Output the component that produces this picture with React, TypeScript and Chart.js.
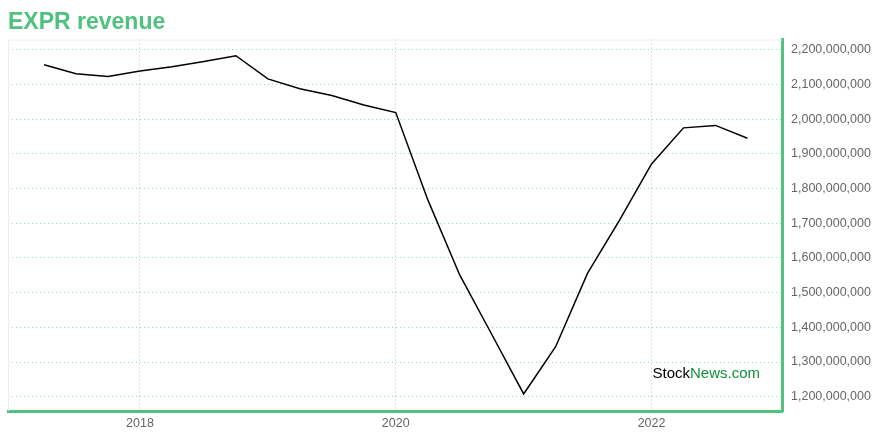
import React, { useEffect, useRef } from "react";
import { Chart, registerables } from "chart.js";

Chart.register(...registerables);

const TITLE = "EXPR revenue";
// quarter-end dates (fractional years)
const quarters: number[] = [
  2017.25, 2017.5, 2017.75, 2018.0, 2018.25, 2018.5, 2018.75, 2019.0,
  2019.25, 2019.5, 2019.75, 2020.0, 2020.25, 2020.5, 2020.75, 2021.0,
  2021.25, 2021.5, 2021.75, 2022.0, 2022.25, 2022.5, 2022.75,
];
// trailing revenue, USD
const revenue: number[] = [
  2157e6, 2131e6, 2123e6, 2139e6, 2151e6, 2166e6, 2183e6, 2116e6,
  2088e6, 2068e6, 2041e6, 2019e6, 1768e6, 1551e6, 1380e6, 1208e6,
  1344e6, 1556e6, 1709e6, 1871e6, 1975e6, 1982e6, 1945e6,
];
const xTicks: number[] = [2018, 2020, 2022];
const yTicks: number[] = [
  1.2e9, 1.3e9, 1.4e9, 1.5e9, 1.6e9, 1.7e9, 1.8e9, 1.9e9, 2.0e9, 2.1e9, 2.2e9,
];
const X_MIN = 2016.968;
const X_MAX = 2023.02;
const Y_MIN = 1.1588e9;
const Y_MAX = 2.2294e9;

const GREEN = "#50c17f";
const GRID = "rgba(80,193,127,0.6)";
const FONT = "'Liberation Sans', Arial, sans-serif";

const framePlugin = {
  id: "frame",
  beforeDatasetsDraw(chart: any) {
    const { ctx, chartArea } = chart;
    ctx.save();
    ctx.strokeStyle = "#ececec";
    ctx.lineWidth = 1;
    ctx.beginPath();
    ctx.moveTo(chartArea.left + 0.5, chartArea.bottom);
    ctx.lineTo(chartArea.left + 0.5, chartArea.top + 0.5);
    ctx.lineTo(chartArea.right, chartArea.top + 0.5);
    ctx.stroke();
    ctx.restore();
  },
  afterDraw(chart: any) {
    const { ctx, chartArea } = chart;
    ctx.save();
    ctx.font = "15px " + FONT;
    ctx.textBaseline = "middle";
    ctx.textAlign = "left";
    const a = "Stock";
    const b = "News.com";
    const wa = ctx.measureText(a).width;
    const wb = ctx.measureText(b).width;
    const x = chartArea.right - 22 - wa - wb;
    const y = chartArea.bottom - 37;
    ctx.fillStyle = "#000";
    ctx.fillText(a, x, y);
    ctx.fillStyle = "#12903a";
    ctx.fillText(b, x + wa, y);
    ctx.restore();
  },
};

export default function App() {
  const ref = useRef<HTMLCanvasElement>(null);
  useEffect(() => {
    if (!ref.current) return;
    const data = quarters.map((q, i) => ({ x: q, y: revenue[i] }));
    const chart = new Chart(ref.current, {
      type: "line",
      data: {
        datasets: [
          {
            data,
            borderColor: "#000",
            borderWidth: 1.5,
            pointRadius: 0,
            tension: 0,
            fill: false,
          },
        ],
      },
      options: {
        animation: false,
        responsive: false,
        maintainAspectRatio: false,
        layout: { padding: { left: 8, right: 0, top: 0, bottom: 0 } },
        plugins: {
          legend: { display: false },
          tooltip: { enabled: false },
          title: {
            display: true,
            text: TITLE,
            align: "start",
            color: GREEN,
            font: { family: FONT, size: 23, weight: "bold" },
            padding: { top: 9, bottom: 3 },
          },
        },
        scales: {
          x: {
            type: "linear",
            position: "bottom",
            min: X_MIN,
            max: X_MAX,
            afterFit(s: any) { s.height = 29; },
            afterBuildTicks(s: any) { s.ticks = xTicks.map((v) => ({ value: v })); },
            ticks: {
              padding: 5,
              color: "#666",
              font: { family: FONT, size: 12.5 },
              callback: (v: any) => String(v),
              maxRotation: 0,
              autoSkip: false,
            },
            grid: { color: GRID, drawTicks: false, lineWidth: 1 },
            border: { display: true, color: GREEN, width: 3, dash: [1, 3] },
          },
          y: {
            type: "linear",
            position: "right",
            min: Y_MIN,
            max: Y_MAX,
            afterFit(s: any) { s.width = 98; },
            afterBuildTicks(s: any) { s.ticks = yTicks.map((v) => ({ value: v })); },
            ticks: {
              padding: 9,
              color: "#666",
              font: { family: FONT, size: 12.5 },
              callback: (v: any) => Number(v).toLocaleString("en-US"),
              autoSkip: false,
            },
            grid: { color: GRID, drawTicks: false, lineWidth: 1 },
            border: { display: true, color: GREEN, width: 3, dash: [1, 3] },
          },
        },
      },
      plugins: [framePlugin],
    });
    return () => chart.destroy();
  }, []);
  return (
    <div style={{ position: "fixed", left: 0, top: 0, width: 880, height: 440, background: "#fff" }}>
      <canvas ref={ref} width={880} height={440} style={{ width: 880, height: 440 }} />
    </div>
  );
}
